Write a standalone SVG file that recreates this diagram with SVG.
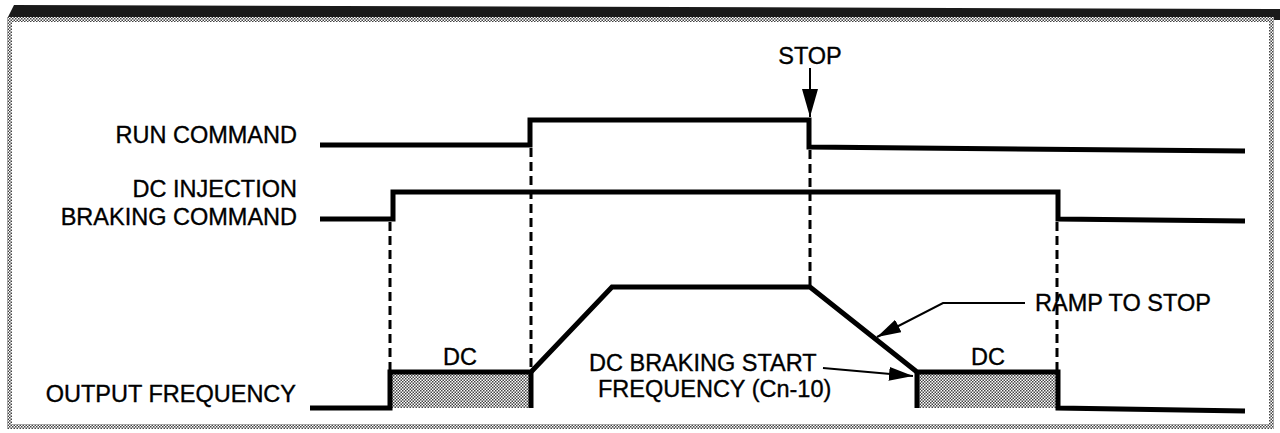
<svg xmlns="http://www.w3.org/2000/svg" width="1280" height="433" viewBox="0 0 1280 433">
  <defs>
    <pattern id="chk" width="3" height="3" patternUnits="userSpaceOnUse">
      <rect width="3" height="3" fill="#ffffff"/>
      <rect width="1.5" height="1.5" fill="#444"/>
      <rect x="1.5" y="1.5" width="1.5" height="1.5" fill="#444"/>
    </pattern>
    <marker id="ah" viewBox="0 0 24 14" refX="24" refY="7" markerWidth="24" markerHeight="14" markerUnits="userSpaceOnUse" orient="auto">
      <path d="M0,0 L24,7 L0,14 z" fill="#000"/>
    </marker>
    <marker id="ahBig" viewBox="0 0 28 16" refX="28" refY="8" markerWidth="28" markerHeight="16" markerUnits="userSpaceOnUse" orient="auto">
      <path d="M0,0 L28,8 L0,16 z" fill="#000"/>
    </marker>
    <style>
      .lbl{font-family:"Liberation Sans",Arial,sans-serif;font-size:23.5px;fill:#000;stroke:#000;stroke-width:0.35}
      .sig{fill:none;stroke:#000;stroke-width:5;stroke-linejoin:miter}
      .dash{fill:none;stroke:#000;stroke-width:3;stroke-dasharray:9,5}
      .thin{fill:none;stroke:#000;stroke-width:2}
    </style>
  </defs>
  <rect width="1280" height="433" fill="#fff"/>
  <g id="frame">
    <polygon points="14,5 1280,9 1280,20 8,17" fill="#1a1a1a"/>
    <rect x="9.5" y="19.5" width="1262" height="407" fill="none" stroke="url(#chk)" stroke-width="5"/>
  </g>
  <g id="labels">
    <text class="lbl" x="297" y="143" text-anchor="end">RUN COMMAND</text>
    <text class="lbl" x="297" y="197" text-anchor="end">DC INJECTION</text>
    <text class="lbl" x="297" y="225" text-anchor="end">BRAKING COMMAND</text>
    <text class="lbl" x="296" y="402" text-anchor="end">OUTPUT FREQUENCY</text>
    <text class="lbl" x="810" y="64" text-anchor="middle">STOP</text>
    <text class="lbl" x="460" y="365" text-anchor="middle">DC</text>
    <text class="lbl" x="988" y="365" text-anchor="middle">DC</text>
    <text class="lbl" x="1035" y="311">RAMP TO STOP</text>
    <text class="lbl" x="589" y="371">DC BRAKING START</text>
    <text class="lbl" x="598" y="397">FREQUENCY (Cn-10)</text>
  </g>
  <g id="dc-boxes">
    <rect x="390" y="372" width="141" height="36" fill="url(#chk)"/>
    <rect x="917" y="372" width="141" height="36" fill="url(#chk)"/>
  </g>
  <g id="signals">
    <polyline id="run" class="sig" points="320,145 530,145 530,120 809,120 809,147 1245,151"/>
    <polyline id="dcinj" class="sig" points="320,219 393,219 393,192 1058,192 1058,219 1245,221"/>
    <polyline id="outfreq" class="sig" points="310,408 390,408 390,372 531,372 612,287 810,287 917,372 1058,372 1058,408 1245,411"/>
    <line class="sig" x1="531" y1="372" x2="531" y2="408"/>
    <line class="sig" x1="917" y1="372" x2="917" y2="408"/>
  </g>
  <g id="connectors">
    <line class="dash" x1="390" y1="222" x2="390" y2="370"/>
    <line class="dash" x1="531" y1="148" x2="531" y2="370"/>
    <line class="dash" x1="810" y1="150" x2="810" y2="285"/>
    <line class="dash" x1="1057" y1="222" x2="1057" y2="370"/>
    <line class="thin" x1="810" y1="68" x2="810" y2="117" marker-end="url(#ahBig)"/>
    <polyline class="thin" points="1025,303 943,303 877,337" marker-end="url(#ah)"/>
    <line class="thin" x1="823" y1="368" x2="913" y2="376" marker-end="url(#ah)"/>
  </g>
</svg>
